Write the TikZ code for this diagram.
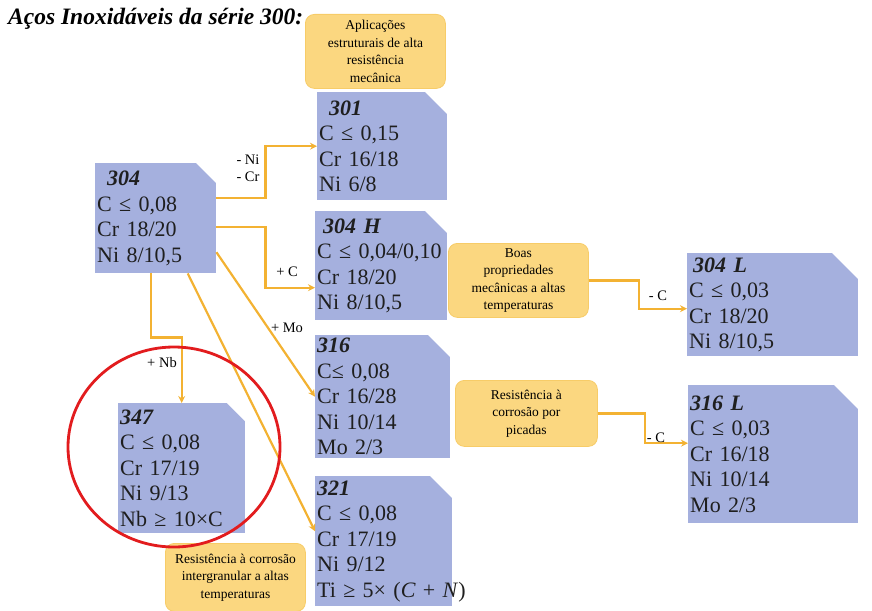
\documentclass[tikz,border=0pt]{standalone}
\usepackage{fontspec}
\setmainfont{Liberation Serif}
\usetikzlibrary{arrows.meta}

\definecolor{steelblue}{RGB}{165,176,222}
\definecolor{notefill}{RGB}{251,215,128}
\definecolor{noteedge}{RGB}{247,204,104}
\definecolor{linkgold}{RGB}{243,178,50}
\definecolor{ringred}{RGB}{226,28,30}

\newcommand{\steelname}[1]{\textbf{\textit{#1}}}

\tikzset{
  notch/.store in=\notchsize, notch=20pt,
  steel/.style={fill=steelblue, anchor=north west, align=left, inner xsep=2pt, inner ysep=0pt,
    font=\fontsize{22}{25.5}\selectfont, text=black!88,
    path picture={\fill[white] (path picture bounding box.north east)
      -- ([xshift=-\notchsize]path picture bounding box.north east)
      -- ([yshift=-\notchsize]path picture bounding box.north east) -- cycle;}},
  note/.style={fill=notefill, draw=noteedge, line width=.8pt, rounded corners=9pt,
    anchor=north west, align=center, inner sep=0pt, font=\fontsize{13.5}{17.5}\selectfont},
  link/.style={draw=linkgold, line width=2.2pt, -{Stealth[length=7pt,width=7pt]}},
  tag/.style={font=\fontsize{14.5}{16}\selectfont, inner sep=1pt}
}

\begin{document}
\begin{tikzpicture}[x=1pt, y=-1pt]
		\useasboundingbox (0,0) rectangle (872,610);
		\node[anchor=base west, inner sep=0pt, font=\fontsize{23.5}{26}\selectfont\bfseries\itshape] (title) at (8,25) {Aços Inoxidáveis da série 300:};
		
		\node[steel, text width=117pt, minimum height=110pt] (s304) at (95,163) {\hspace*{10pt}\steelname{304}\\ C ≤ 0,08\\ Cr 18/20\\ Ni 8/10,5};
		\node[steel, text width=126pt, minimum height=108pt, notch=22pt] (s301) at (317,92) {\hspace*{10pt}\steelname{301}\\ C ≤ 0,15\\ Cr 16/18\\ Ni 6/8};
		\node[steel, text width=128pt, minimum height=109pt, notch=22pt] (s304H) at (315,211) {\hspace*{6pt}\steelname{304 H}\\ C ≤ 0,04/0,10\\ Cr 18/20\\ Ni 8/10,5};
		\node[steel, text width=131pt, minimum height=123pt, notch=22pt] (s316) at (315,335) {\steelname{316}\\ C≤ 0,08\\ Cr 16/28\\ Ni 10/14\\ Mo 2/3};
		\node[steel, text width=133pt, minimum height=130pt, notch=22pt] (s321) at (315,476) {\steelname{321}\\ C ≤ 0,08\\ Cr 17/19\\ Ni 9/12\\ \mbox{Ti ≥ 5× (\textit{C} + \textit{N})}};
		\node[steel, text width=123pt, minimum height=130pt, notch=18pt] (s347) at (118,403) {\steelname{347}\\ C ≤ 0,08\\ Cr 17/19\\ Ni 9/13\\ Nb ≥ 10×C};
		\node[steel, text width=167pt, minimum height=103pt, notch=26pt] (s304L) at (687,253) {\hspace*{4pt}\steelname{304 L}\\ C ≤ 0,03\\ Cr 18/20\\ Ni 8/10,5};
		\node[steel, text width=166pt, minimum height=138pt, notch=24pt] (s316L) at (688,385) {\steelname{316 L}\\ C ≤ 0,03\\ Cr 16/18\\ Ni 10/14\\ Mo 2/3};
		
		\node[note, minimum width=140pt, minimum height=74pt] (yApl) at (305,14) {Aplicações\\ estruturais de alta\\ resistência\\ mecânica};
		\node[note, minimum width=140pt, minimum height=74pt] (yBoas) at (448,243) {Boas\\ propriedades\\ mecânicas a altas\\ temperaturas};
		\node[note, minimum width=142pt, minimum height=66pt] (yPic) at (455,380) {Resistência à\\ corrosão por\\ picadas};
		\node[note, minimum width=140pt, minimum height=68pt] (yInt) at (165,543) {Resistência à corrosão\\ intergranular a altas\\ temperaturas};
		
		% ramos a partir do 304
		\draw[link] ([yshift=20pt]s304.east) -- ++(49,0) |- (s301.west);
		\draw[link] ([yshift=-9pt]s304.east) -- ++(49,0) |- ([yshift=-22pt]s304H.west);
		\draw[link] ([yshift=-34pt]s304.east) -- (s316.west);
		\draw[link] ([xshift=32pt]s304.south) -- ([yshift=10pt]s321.west);
		\draw[link] ([xshift=-5pt]s304.south) -- ++(0,64) -| (s347.north);
		
		\draw[link] (yBoas.east) -- ++(50,0) |- ([yshift=-4pt]s304L.west);
		\draw[link] (yPic.east) -- ++(47,0) |- ([yshift=11pt]s316L.west);
		
		\node[tag] (lNi) at (248,160) {- Ni};
		\node[tag] (lCr) at (248,177) {- Cr};
		\node[tag] (lC) at (287,272) {+ C};
		\node[tag] (lMo) at (287,328) {+ Mo};
		\node[tag] (lNb) at (162,363) {+ Nb};
		\node[tag] (lCa) at (658,296) {- C};
		\node[tag] (lCb) at (656,438) {- C};
		
		\draw[ringred, line width=2.8pt] (174,447) ellipse [x radius=106, y radius=100];
\end{tikzpicture}
\end{document}
